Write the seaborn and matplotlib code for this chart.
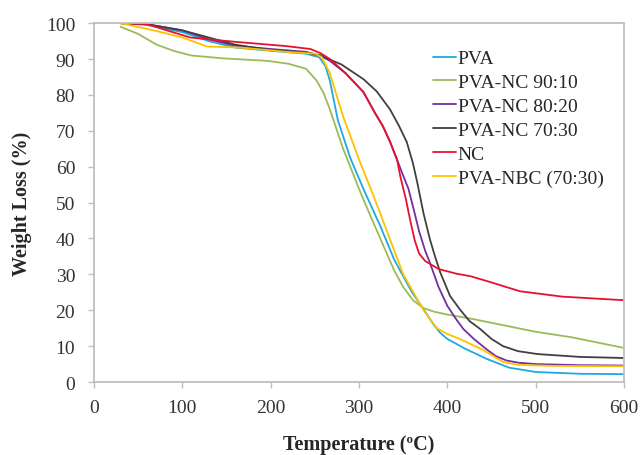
import pandas as pd
import matplotlib
matplotlib.use('Agg')
import matplotlib.pyplot as plt
import seaborn as sns

# TGA curves
t_pva = [30, 60, 100, 130, 160, 200, 240, 255, 262, 267, 276, 290, 305, 324, 340, 360, 373, 385, 392, 400, 420, 445, 470, 500, 550, 600]
w_pva = [100, 99.5, 97.5, 95, 93.2, 92.3, 91.5, 90.5, 88, 84, 73, 62.5, 53.8, 43.5, 34, 25, 20.3, 15.8, 13.7, 12, 9.3, 6.4, 4, 2.8, 2.3, 2.2]

t_nc9010 = [30, 50, 71, 90, 110, 146, 196, 220, 240, 252, 260, 267, 282, 303, 324, 340, 350, 361, 373, 385, 400, 430, 460, 500, 540, 570, 600]
w_nc9010 = [99, 97, 94, 92.3, 91, 90.2, 89.5, 88.7, 87.3, 84, 80.5, 76, 65, 52, 40, 31, 26.5, 22.8, 20.6, 19.6, 18.8, 17.5, 16, 14, 12.5, 11, 9.5]

t_nc8020 = [30, 60, 100, 130, 160, 200, 240, 256, 267, 285, 305, 318, 327, 335, 343, 350, 356, 362, 368, 375, 380, 390, 400, 410, 418, 430, 445, 455, 467, 480, 500, 550, 600]
w_nc8020 = [100, 99.7, 98, 95.5, 93.7, 92.8, 92, 91, 89.5, 86, 80.8, 75, 71.3, 67, 62, 57.5, 53.8, 48, 42, 36.5, 33.4, 26.5, 21.2, 17.5, 14.8, 12, 9, 7.2, 6, 5.4, 5, 4.7, 4.6]

t_nc7030 = [30, 60, 100, 130, 160, 200, 240, 256, 280, 305, 320, 335, 345, 354, 361, 366, 373, 380, 386, 392, 403, 414, 425, 437, 450, 463, 480, 502, 550, 600]
w_nc7030 = [100, 99.7, 98, 96, 94, 92.5, 91.8, 91, 88.5, 84.4, 81, 76, 71.5, 66.9, 61, 55.5, 47, 40, 35, 30.5, 24, 20.3, 17, 14.8, 12, 10, 8.6, 7.8, 7, 6.7]

t_nc = [30, 60, 109, 160, 218, 245, 256, 267, 285, 305, 318, 327, 335, 343, 347, 353, 358, 363, 368, 375, 390, 410, 426, 448, 482, 530, 600]
w_nc = [100, 99.7, 96, 94.8, 93.6, 92.8, 91.7, 90, 86, 80.8, 75, 71.3, 67, 62, 57, 51, 45, 39.5, 35.8, 33.7, 31.5, 30.2, 29.5, 27.9, 25.3, 23.8, 22.8]

t_nbc = [30, 71, 100, 128, 166, 218, 250, 258, 267, 282, 300, 313, 324, 350, 373, 388, 400, 414, 440, 463, 480, 520, 600]
w_nbc = [100, 97.8, 96, 93.5, 93.2, 92, 91.5, 90.5, 86, 74, 62, 54, 47, 30, 20, 15, 13.4, 12, 9, 5.6, 4.8, 4.5, 4.4]

names = ['PVA', 'PVA-NC 90:10', 'PVA-NC 80:20', 'PVA-NC 70:30', 'NC', 'PVA-NBC (70:30)']
colors = ['#1FA9E1', '#9BBB59', '#7030A0', '#404040', '#E8112D', '#FFC000']

series = [(t_pva, w_pva), (t_nc9010, w_nc9010), (t_nc8020, w_nc8020),
          (t_nc7030, w_nc7030), (t_nc, w_nc), (t_nbc, w_nbc)]
frames = []
for name, (t, w) in zip(names, series):
    frames.append(pd.DataFrame({'Temperature': t, 'Weight': w, 'Sample': name}))
df = pd.concat(frames, ignore_index=True)

sns.set_style('white')
plt.rcParams['font.family'] = ['Liberation Serif', 'DejaVu Serif']

fig = plt.figure(figsize=(6.41, 4.56), dpi=100)
ax = fig.add_axes([0.1466, 0.16, 0.827, 0.787])

sns.lineplot(data=df, x='Temperature', y='Weight', hue='Sample', hue_order=names,
             palette=dict(zip(names, colors)), estimator=None, sort=False,
             linewidth=1.3, ax=ax)

ax.set_xlim(0, 600)
ax.set_ylim(0, 100)
ax.set_xticks(range(0, 601, 100))
ax.set_yticks(range(0, 101, 10))
for s in ax.spines.values():
    s.set_color('#BFBFBF')
    s.set_linewidth(1.3)
ax.tick_params(axis='both', direction='out', length=4.5, width=1, color='#BFBFBF',
               labelsize=14, labelcolor='#333333', bottom=True, left=True)
ax.tick_params(axis='x', pad=8)
ax.tick_params(axis='y', pad=9)

ax.set_xlabel('Temperature (ºC)', fontsize=14.5, fontweight='bold', labelpad=13)
ax.set_ylabel('Weight Loss (%)', fontsize=14.5, fontweight='bold', labelpad=10)

ax.legend(loc='upper left', bbox_to_anchor=(0.64, 0.926), frameon=False, fontsize=14,
          handlelength=1.15, handletextpad=0.1, labelspacing=0.32,
          borderaxespad=0, borderpad=0)

fig.savefig('out.png', dpi=100)
